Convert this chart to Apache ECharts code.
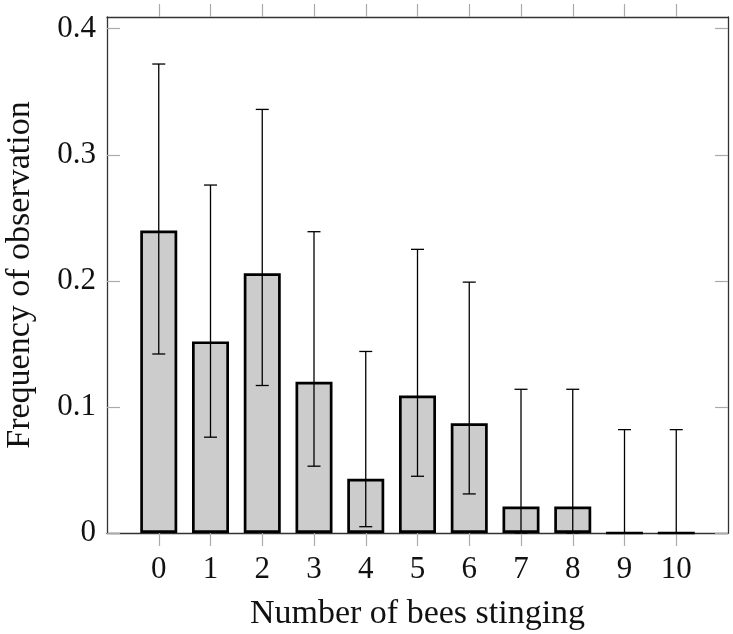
<!DOCTYPE html>
<html>
<head>
<meta charset="utf-8">
<script src="https://cdn.jsdelivr.net/npm/echarts@6/dist/echarts.min.js"></script>
<style>
html,body{margin:0;padding:0;background:#fff;}
#chart{width:733px;height:634px;}
</style>
</head>
<body>
<div id="chart"></div>
<script>
// Data
var categories = [0, 1, 2, 3, 4, 5, 6, 7, 8, 9, 10];
var frequency = [0.240, 0.152, 0.206, 0.120, 0.043, 0.109, 0.087, 0.021, 0.021, 0, 0];
var errLow = [0.142, 0.076, 0.117, 0.053, 0.005, 0.045, 0.031, 0, 0, 0, 0];
var errHigh = [0.372, 0.276, 0.336, 0.239, 0.144, 0.225, 0.199, 0.114, 0.114, 0.082, 0.082];
var yTicks = [0, 0.1, 0.2, 0.3, 0.4];
var xTitle = 'Number of bees stinging';
var yTitle = 'Frequency of observation';

var FONT = 'Liberation Serif';
var barData = categories.map(function (c, i) { return [c, frequency[i]]; });
var errData = categories.map(function (c, i) { return [c, errLow[i], errHigh[i]]; });

var chart = echarts.init(document.getElementById('chart'), null, {renderer: 'canvas'});
var axisLineStyle = {color: '#333', width: 1.3};
var tickStyle = {color: '#aaa', width: 1.2};

chart.setOption({
  backgroundColor: '#fff',
  animation: false,
  grid: {left: 107, right: 5, top: 17, bottom: 101, containLabel: false, outerBoundsMode: 'none'},
  xAxis: [{
    type: 'value', min: -1, max: 11, interval: 1, position: 'bottom',
    axisLine: {show: true, onZero: false, lineStyle: axisLineStyle},
    axisTick: {show: true, inside: false, length: 13, lineStyle: tickStyle, customValues: categories},
    axisLabel: {show: true, customValues: categories, fontFamily: FONT, fontSize: 31, color: '#111', margin: 21},
    splitLine: {show: false},
    name: xTitle, nameLocation: 'middle', nameGap: 64,
    nameTextStyle: {fontFamily: FONT, fontSize: 34, color: '#111'}
  }, {
    type: 'value', min: -1, max: 11, interval: 1, position: 'top',
    axisLine: {show: true, onZero: false, lineStyle: axisLineStyle},
    axisTick: {show: true, inside: false, length: 13, lineStyle: tickStyle, customValues: categories},
    axisLabel: {show: false},
    splitLine: {show: false}
  }],
  yAxis: [{
    type: 'value', min: 0, max: 0.4093, position: 'left',
    axisLine: {show: true, onZero: false, lineStyle: axisLineStyle},
    axisTick: {show: true, inside: true, length: 13, lineStyle: tickStyle, customValues: yTicks},
    axisLabel: {show: true, customValues: yTicks, fontFamily: FONT, fontSize: 31, color: '#111', margin: 11,
      formatter: function (v) { return v === 0 ? '0' : v.toFixed(1); }},
    splitLine: {show: false},
    name: yTitle, nameLocation: 'middle', nameRotate: 90, nameGap: 70,
    nameTextStyle: {fontFamily: FONT, fontSize: 34, color: '#111'}
  }, {
    type: 'value', min: 0, max: 0.4093, position: 'right',
    axisLine: {show: true, onZero: false, lineStyle: axisLineStyle},
    axisTick: {show: true, inside: true, length: 13, lineStyle: tickStyle, customValues: yTicks},
    axisLabel: {show: false},
    splitLine: {show: false}
  }],
  series: [{
    type: 'bar',
    xAxisIndex: 0, yAxisIndex: 0,
    data: barData,
    barWidth: 37,
    itemStyle: {color: '#cccccc', borderColor: '#000', borderWidth: 2.7},
    silent: true
  }, {
    type: 'custom',
    xAxisIndex: 0, yAxisIndex: 0,
    data: errData,
    encode: {x: 0, y: [1, 2]},
    z: 10,
    silent: true,
    renderItem: function (params, api) {
      var x = api.value(0);
      var lo = api.coord([x, api.value(1)]);
      var hi = api.coord([x, api.value(2)]);
      var hw = 6.5;
      var style = {stroke: '#000', lineWidth: 1.3, fill: null};
      return {
        type: 'group',
        children: [
          {type: 'line', shape: {x1: lo[0], y1: lo[1], x2: hi[0], y2: hi[1]}, style: style},
          {type: 'line', shape: {x1: hi[0] - hw, y1: hi[1], x2: hi[0] + hw, y2: hi[1]}, style: style},
          {type: 'line', shape: {x1: lo[0] - hw, y1: lo[1], x2: lo[0] + hw, y2: lo[1]}, style: style}
        ]
      };
    }
  }]
});
</script>
</body>
</html>
